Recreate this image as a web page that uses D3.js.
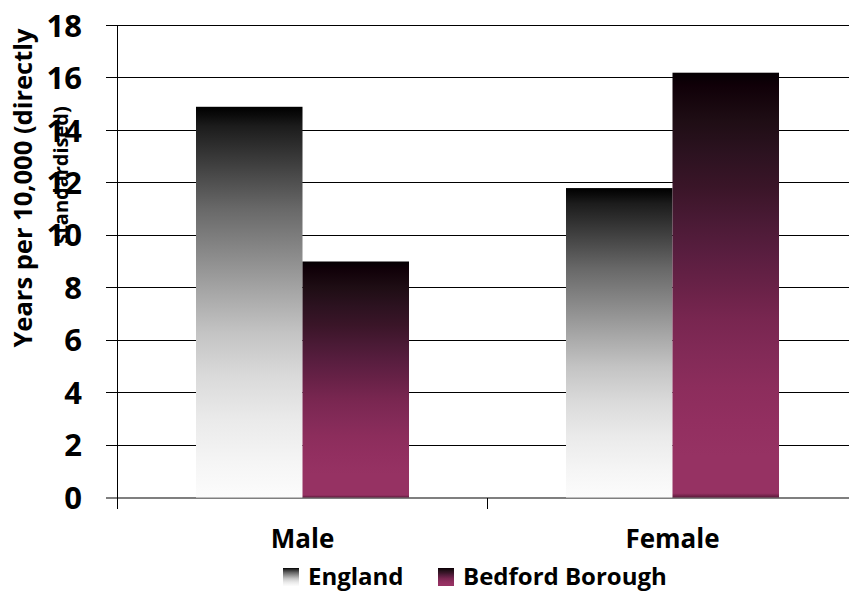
<!DOCTYPE html>
<html>
<head>
<meta charset="utf-8">
<script src="https://cdn.jsdelivr.net/npm/d3@7"></script>
<style>
  html, body { margin: 0; padding: 0; background: #fff; }
  svg { display: block; }
  text { font-family: "Open Sans", "Liberation Sans", sans-serif; font-weight: bold; fill: #000; }
</style>
</head>
<body>
<svg id="chart" width="849" height="591"></svg>
<script>
// Years of life lost per 10,000 (directly standardised), by sex
const categories = ["Male", "Female"];
const seriesNames = ["England", "Bedford Borough"];
const englandValues = [14.9, 11.8];
const bedfordValues = [9.0, 16.2];
const yTickValues = [0, 2, 4, 6, 8, 10, 12, 14, 16, 18];
const yTitleLines = ["Years per 10,000 (directly", "standardised)"];

const seriesValues = [englandValues, bedfordValues];

const svg = d3.select("#chart");

const plot = { left: 117.5, right: 857.5, top: 25.5, bottom: 497.5 };

const y = d3.scaleLinear().domain([0, 18]).range([plot.bottom, plot.top]);
const x0 = d3.scaleBand().domain(categories).range([plot.left, plot.right]).padding(0);
const x1 = d3.scaleBand().domain(seriesNames).range([0, x0.bandwidth()])
  .paddingInner(0).paddingOuter(0.737);

// Vertical gradients: dark at the top fading towards the series colour
const defs = svg.append("defs");
const gradStops = {
  "England": [
    [0, "#000000"], [0.02, "#0a0a0a"], [0.05, "#1c1c1c"], [0.15, "#404040"],
    [0.26, "#686868"], [0.37, "#888888"], [0.48, "#a8a8a8"], [0.58, "#c4c4c4"],
    [0.69, "#dadada"], [0.8, "#eaeaea"], [0.91, "#f5f5f5"], [1, "#fcfcfc"]
  ],
  "Bedford Borough": [
    [0, "#050003"], [0.03, "#100008"], [0.11, "#1e0d14"], [0.19, "#2c1220"],
    [0.27, "#3a1528"], [0.35, "#4a1a35"], [0.43, "#5a1e40"], [0.51, "#6a2248"],
    [0.58, "#782650"], [0.66, "#822a57"], [0.74, "#8c2d5c"], [0.82, "#922f60"],
    [0.9, "#963263"], [0.99, "#963263"], [1, "#5a1a3a"]
  ]
};
const gradId = name => "grad-" + name.replace(/\s+/g, "-");
seriesNames.forEach(name => {
  const g = defs.append("linearGradient")
    .attr("id", gradId(name))
    .attr("x1", 0).attr("y1", 0).attr("x2", 0).attr("y2", 1);
  g.selectAll("stop").data(gradStops[name]).join("stop")
    .attr("offset", d => d[0])
    .attr("stop-color", d => d[1]);
});

// Horizontal gridlines with short ticks left of the axis
const snap = v => Math.round(v - 0.5) + 0.5;
svg.append("g").selectAll("line").data(yTickValues).join("line")
  .attr("x1", plot.left - 12).attr("x2", plot.right)
  .attr("y1", d => d === 0 ? y(d) : snap(y(d)))
  .attr("y2", d => d === 0 ? y(d) : snap(y(d)))
  .attr("stroke", d => d === 0 ? "#7f7f7f" : "#000")
  .attr("stroke-width", d => d === 0 ? 2 : 1)
  .attr("shape-rendering", "crispEdges");

// Bars
const groups = svg.append("g").selectAll("g").data(categories).join("g")
  .attr("transform", c => `translate(${x0(c)},0)`);
groups.selectAll("rect")
  .data((c, ci) => seriesNames.map((s, si) => ({ series: s, value: seriesValues[si][ci] })))
  .join("rect")
  .attr("x", d => x1(d.series))
  .attr("width", x1.bandwidth())
  .attr("y", d => y(d.value))
  .attr("height", d => y(0) - y(d.value))
  .attr("fill", d => `url(#${gradId(d.series)})`);

// Y axis line and category tick marks
svg.append("line")
  .attr("x1", plot.left).attr("x2", plot.left)
  .attr("y1", y(18)).attr("y2", plot.bottom + 11)
  .attr("stroke", "#000").attr("stroke-width", 1)
  .attr("shape-rendering", "crispEdges");
const catEdges = categories.map(c => x0(c)).concat([plot.right]);
svg.append("g").selectAll("line").data(catEdges).join("line")
  .attr("x1", d => d).attr("x2", d => d)
  .attr("y1", plot.bottom).attr("y2", plot.bottom + 11)
  .attr("stroke", "#000").attr("stroke-width", 1)
  .attr("shape-rendering", "crispEdges");

// Y tick labels
svg.append("g").selectAll("text").data(yTickValues).join("text")
  .attr("x", 82)
  .attr("y", d => y(d))
  .attr("dy", "0.36em")
  .attr("text-anchor", "end")
  .style("font-size", "31px")
  .text(d => d);

// Category labels
svg.append("g").selectAll("text").data(categories).join("text")
  .attr("x", c => x0(c) + x0.bandwidth() / 2)
  .attr("y", 548)
  .attr("text-anchor", "middle")
  .style("font-size", "26px")
  .text(c => c);

// Y axis title (two lines)
svg.append("text")
  .attr("transform", "translate(32,188) rotate(-90)")
  .attr("text-anchor", "middle")
  .style("font-size", "25.5px")
  .text(yTitleLines[0]);
svg.append("text")
  .attr("transform", "translate(68,175) rotate(-90)")
  .attr("text-anchor", "middle")
  .style("font-size", "20px")
  .text(yTitleLines[1]);

// Legend
const legendX = [283, 438];
const legend = svg.append("g").selectAll("g").data(seriesNames).join("g")
  .attr("transform", (d, i) => `translate(${legendX[i]},0)`);
legend.append("rect")
  .attr("x", 0).attr("y", 568)
  .attr("width", 16).attr("height", 18)
  .attr("fill", d => `url(#${gradId(d)})`);
legend.append("text")
  .attr("x", 25).attr("y", 585)
  .style("font-size", "24px")
  .text(d => d);
</script>
</body>
</html>
